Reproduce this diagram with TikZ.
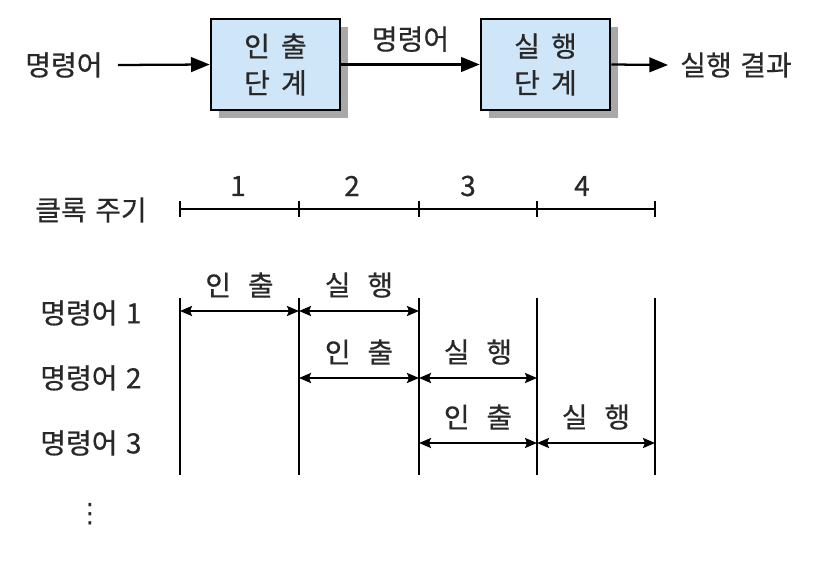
\documentclass[tikz,border=0pt]{standalone}
\usepackage{fontspec}
\setmainfont{Noto Sans CJK KR}[FakeBold=0.5]
\newfontfamily\dotsfont{DejaVu Sans}
\usetikzlibrary{arrows.meta,shadows}
\definecolor{boxblue}{RGB}{206,230,247}
\definecolor{shadowgray}{RGB}{168,168,168}
\definecolor{ink}{RGB}{40,40,40}
\begin{document}
\begin{tikzpicture}[x=0.75pt,y=-0.75pt,
  txt/.style={text=ink, font=\fontsize{21}{27.5}\selectfont, inner sep=0pt},
  stagebox/.style={draw=black, line width=2pt, fill=boxblue, minimum width=96.75pt, minimum height=68.25pt, align=center, text=ink, font=\fontsize{21}{27.5}\selectfont,
    drop shadow={shadow xshift=6pt, shadow yshift=-6pt, fill=shadowgray, opacity=1}},
  bigarr/.style={line width=1.7pt, -{Triangle[length=14pt,width=11pt]}},
  dblarr/.style={line width=1.6pt, {Stealth[length=9pt,width=7.5pt,inset=1.5pt]}-{Stealth[length=9pt,width=7.5pt,inset=1.5pt]}},
  tline/.style={line width=1.6pt},
]
\useasboundingbox (0,0) rectangle (838,560);

% top pipeline
\node[txt, anchor=west] (in) at (25,65) {명령어};
\node[stagebox] (b1) at (275.5,64.5) {인\hspace{0.4em}출\\단\hspace{0.4em}계};
\node[stagebox] (b2) at (545.5,64.5) {실\hspace{0.4em}행\\단\hspace{0.4em}계};
\node[txt, anchor=west] (out) at (680,65) {실행\hspace{0.3em}결과};
\coordinate (inend) at (118,65);
\coordinate (outend) at (668,65);
\draw[bigarr] (inend) -- (b1.west);
\draw[bigarr] (b1.east) -- node[txt, midway, yshift=19pt] (mid) {명령어} (b2.west);
\draw[bigarr] (b2.east) -- (outend);

% clock
\node[txt, anchor=west] (clk) at (35,210) {클록\hspace{0.3em}주기};
\foreach \i/\x in {0/180,1/299,2/419,3/537,4/655}{
  \coordinate (t\i) at (\x,209);
  \coordinate (vt\i) at (\x,298);
  \coordinate (vb\i) at (\x,475);
}
\draw[tline] (t0) -- (t4);
\foreach \i in {0,...,4}{
  \draw[tline] ([yshift=6pt]t\i) -- ([yshift=-6pt]t\i);
  \draw[tline] (vt\i) -- (vb\i);
}
\node[txt] (n1) at (238,186) {1};
\node[txt] (n2) at (352,186) {2};
\node[txt] (n3) at (468,186) {3};
\node[txt] (n4) at (582,186) {4};

% rows
\node[txt, anchor=west] (r1l) at (40,313) {명령어\hspace{0.3em}1};
\node[txt, anchor=west] (r2l) at (40,378) {명령어\hspace{0.3em}2};
\node[txt, anchor=west] (r3l) at (40,443) {명령어\hspace{0.3em}3};
\coordinate (r1) at (0,311);
\coordinate (r2) at (0,378);
\coordinate (r3) at (0,443);

\draw[dblarr] (vt0 |- r1) -- node[txt, midway, yshift=19.5pt] {인\hspace{0.6em}출} (vt1 |- r1);
\draw[dblarr] (vt1 |- r1) -- node[txt, midway, yshift=19.5pt] {실\hspace{0.6em}행} (vt2 |- r1);
\draw[dblarr] (vt1 |- r2) -- node[txt, midway, yshift=19.5pt] {인\hspace{0.6em}출} (vt2 |- r2);
\draw[dblarr] (vt2 |- r2) -- node[txt, midway, yshift=19.5pt] {실\hspace{0.6em}행} (vt3 |- r2);
\draw[dblarr] (vt2 |- r3) -- node[txt, midway, yshift=19.5pt] {인\hspace{0.6em}출} (vt3 |- r3);
\draw[dblarr] (vt3 |- r3) -- node[txt, midway, yshift=19.5pt] {실\hspace{0.6em}행} (vt4 |- r3);

\node[txt, font=\dotsfont\fontsize{20}{24}\selectfont] (dots) at (90,514) {⋮};
\end{tikzpicture}
\end{document}
